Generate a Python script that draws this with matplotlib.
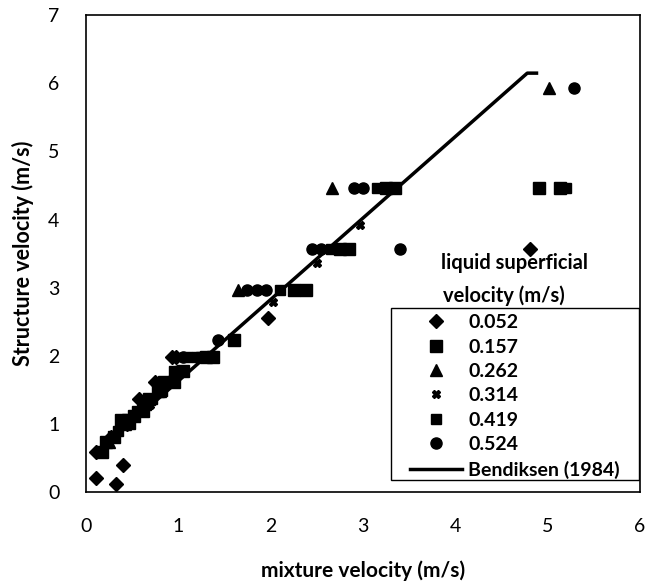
import matplotlib.pyplot as plt
from matplotlib.patches import Rectangle

plt.rcParams['font.family'] = ['Lato', 'DejaVu Sans']

# liquid superficial velocity series: mixture velocity vs structure velocity
x052 = [0.11, 0.33, 0.40, 0.11, 0.27, 0.45, 0.58, 0.75, 0.93, 0.98, 1.97, 4.81]
y052 = [0.20, 0.12, 0.40, 0.59, 0.81, 0.99, 1.37, 1.62, 1.98, 1.98, 2.55, 3.57]

x157 = [0.17, 0.22, 0.30, 0.38, 0.46, 0.52, 0.62, 0.68, 0.78, 0.85, 0.95, 1.05, 1.30, 1.38, 1.60,
        2.25, 2.38, 2.75, 2.85, 3.25, 3.35, 4.91, 5.13]
y157 = [0.59, 0.74, 0.81, 1.05, 1.05, 1.11, 1.19, 1.37, 1.48, 1.62, 1.62, 1.78, 1.98, 1.98, 2.23,
        2.97, 2.97, 3.57, 3.57, 4.46, 4.46, 4.46, 4.46]

x262 = [0.25, 0.42, 0.62, 0.80, 1.65, 2.67, 5.02]
y262 = [0.74, 0.99, 1.27, 1.48, 2.97, 4.46, 5.93]

x314 = [0.30, 0.50, 0.70, 0.90, 1.15, 2.03, 2.50, 2.97]
y314 = [0.81, 1.11, 1.27, 1.62, 1.98, 2.79, 3.36, 3.92]

x419 = [0.35, 0.48, 0.55, 0.65, 0.72, 0.82, 0.95, 1.02, 1.10, 1.20, 1.25, 2.10, 2.65, 3.15, 5.20]
y419 = [0.89, 0.99, 1.19, 1.27, 1.37, 1.48, 1.78, 1.78, 1.98, 1.98, 1.98, 2.97, 3.57, 4.46, 4.46]

x524 = [0.40, 0.60, 0.80, 0.88, 1.00, 1.05, 1.43, 1.75, 1.85, 1.95, 2.45, 2.55, 2.90, 3.00, 3.40, 5.29]
y524 = [0.99, 1.19, 1.48, 1.62, 1.78, 1.98, 2.23, 2.97, 2.97, 2.97, 3.57, 3.57, 4.46, 4.46, 3.57, 5.93]

# Bendiksen (1984) correlation line
bx = [0.10, 4.78, 4.88]
by = [0.55, 6.15, 6.15]

fig = plt.figure(figsize=(6.55, 5.87), dpi=100)
ax = fig.add_axes([0.131, 0.162, 0.846, 0.812])

ax.plot(x052, y052, 'D', color='black', ms=7, ls='none', label='0.052')
ax.plot(x157, y157, 's', color='black', ms=8, ls='none', label='0.157')
ax.plot(x262, y262, '^', color='black', ms=8, ls='none', label='0.262')
ax.plot(x314, y314, 'X', color='black', ms=6, ls='none', label='0.314')
ax.plot(x419, y419, 's', color='black', ms=7, ls='none', label='0.419')
ax.plot(x524, y524, 'o', color='black', ms=8, ls='none', label='0.524')
ax.plot(bx, by, '-', color='black', lw=2.5, label='Bendiksen (1984)')

ax.set_xlim(0, 6)
ax.set_ylim(0, 7)
ax.set_xticks(range(0, 7))
ax.set_yticks(range(0, 8))
ax.tick_params(length=0, labelsize=14, pad=19)
for s in ax.spines.values():
    s.set_linewidth(1.2)

ax.set_xlabel('mixture velocity (m/s)', fontsize=15, fontweight='bold', labelpad=18)
ax.set_ylabel('Structure velocity (m/s)', fontsize=15.5, fontweight='bold', labelpad=10)

# legend frame drawn separately so the side padding can differ from the top
ax.add_patch(Rectangle((0.5505, 0.025), 0.447, 0.361, transform=ax.transAxes,
                       fill=False, edgecolor='black', lw=1, zorder=5))
leg = ax.legend(loc='upper left', bbox_to_anchor=(0.585, 0.373), frameon=False,
                prop={'size': 14, 'weight': 'bold'}, handlelength=2.7,
                borderpad=0, labelspacing=0.38, borderaxespad=0, handletextpad=0.3)

fig.text(0.786, 0.552, 'liquid superficial', ha='center', va='center', fontsize=14.5, fontweight='bold')
fig.text(0.769, 0.497, 'velocity (m/s)', ha='center', va='center', fontsize=14.5, fontweight='bold')

fig.savefig('out.png', dpi=100)
